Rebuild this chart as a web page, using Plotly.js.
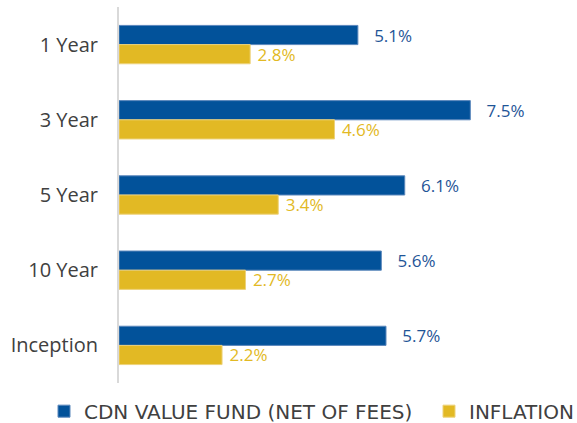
<!DOCTYPE html>
<html><head><meta charset="utf-8">
<script src="https://cdn.plot.ly/plotly-3.0.1.min.js"></script>
<style>html,body{margin:0;padding:0;background:#fff}#chart{width:577px;height:423px}</style>
</head><body><div id="chart"></div>
<script>
const categories = ["1 Year", "3 Year", "5 Year", "10 Year", "Inception"];
const fundValues = [5.1, 7.5, 6.1, 5.6, 5.7];
const inflationValues = [2.8, 4.6, 3.4, 2.7, 2.2];
const seriesNames = ["CDN VALUE FUND (NET OF FEES)", "INFLATION"];

const blue = "#02529A";
const gold = "#E2B924";
const fontFam = "Open Sans, sans-serif";
const legFont = {size: 20, color: "#404040", family: "DejaVu Sans, sans-serif"};

const traces = [
  {type: "bar", orientation: "h", name: seriesNames[0], y: categories, x: fundValues, legend: "legend",
   marker: {color: blue, line: {color: "#5B87BC", width: 1}}, texttemplate: "   %{x:.1f}%", textposition: "outside", constraintext: "none",
   textfont: {color: "#1F5597", size: 17, family: fontFam}, cliponaxis: false, hoverinfo: "none"},
  {type: "bar", orientation: "h", name: seriesNames[1], y: categories, x: inflationValues, legend: "legend2",
   marker: {color: gold, line: {color: "#EDD27A", width: 1}}, texttemplate: " %{x:.1f}%", textposition: "outside", constraintext: "none",
   textfont: {color: gold, size: 17, family: fontFam}, cliponaxis: false, hoverinfo: "none"}
];

const layout = {
  width: 577, height: 423,
  margin: {l: 119, r: 13, t: 7, b: 40},
  paper_bgcolor: "#fff", plot_bgcolor: "#fff",
  barmode: "group", bargap: 0.49, bargroupgap: 0,
  font: {family: fontFam, color: "#404040", size: 17},
  xaxis: {range: [0, 9.5], showgrid: false, zeroline: false, showticklabels: false, showline: false, fixedrange: true},
  yaxis: {range: [4.5, -0.5], showgrid: false, zeroline: false, showline: true, linecolor: "#d9d9d9", linewidth: 2,
          ticks: "", ticklabelstandoff: 15, tickfont: {size: 20, color: "#404040", family: fontFam}},
  legend: {orientation: "h", xref: "container", yref: "container", x: 44/577, xanchor: "left", y: 0.028, yanchor: "middle",
           font: legFont, borderwidth: 0, bgcolor: "rgba(0,0,0,0)"},
  legend2: {orientation: "h", xref: "container", yref: "container", x: 429/577, xanchor: "left", y: 0.028, yanchor: "middle",
           font: legFont, borderwidth: 0, bgcolor: "rgba(0,0,0,0)"},
  showlegend: true
};

Plotly.newPlot("chart", traces, layout, {displayModeBar: false, staticPlot: true});
</script></body></html>
